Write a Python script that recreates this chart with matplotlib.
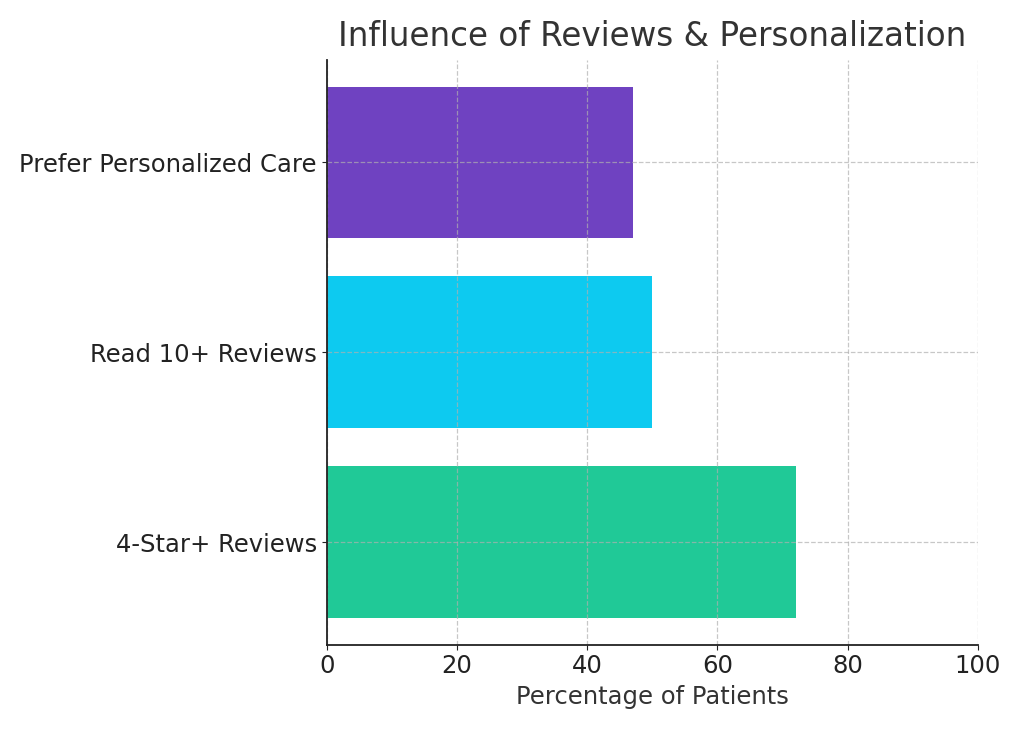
import matplotlib
matplotlib.use("Agg")
import matplotlib.pyplot as plt

# data
categories = ["4-Star+ Reviews", "Read 10+ Reviews", "Prefer Personalized Care"]
values = [72, 50, 47]
colors = ["#20C997", "#0DCAF0", "#6F42C1"]

plt.rcParams["font.family"] = ["DejaVu Sans"]
text_color = "#333333"

fig = plt.figure(figsize=(10.24, 7.31), dpi=100)
ax = fig.add_axes([0.319, 0.118, 0.636, 0.8])

ax.barh(categories, values, color=colors, height=0.8, zorder=1)

ax.set_xlim(0, 100)
ax.set_xlabel("Percentage of Patients", fontsize=17.5, color=text_color, labelpad=5)
ax.set_title("Influence of Reviews & Personalization", fontsize=23.5, color=text_color, pad=10)

ax.tick_params(axis="both", labelsize=17.5, labelcolor="#222222", color="#222222")
# grid sits on top of the bars, semi transparent
ax.set_axisbelow(False)
ax.grid(True, linestyle="--", color="#b0b0b0", linewidth=0.9, alpha=0.7)

for side in ["top", "right"]:
    ax.spines[side].set_visible(False)
for side in ["left", "bottom"]:
    ax.spines[side].set_color("#222222")
    ax.spines[side].set_linewidth(1.3)
    ax.spines[side].set_zorder(4)

fig.savefig("out.png", dpi=100)
